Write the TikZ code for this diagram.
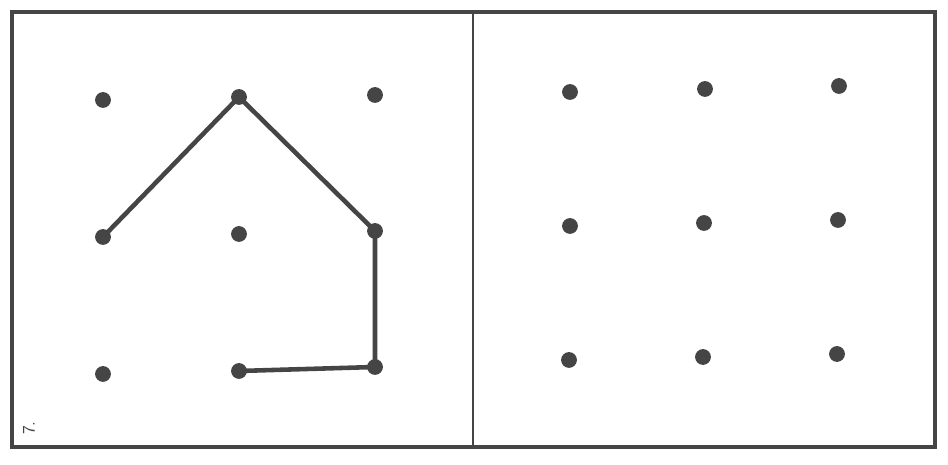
\documentclass[tikz,border=0pt]{standalone}
\usepackage{xcolor}
\definecolor{ink}{HTML}{454545}
\tikzset{
    dot/.style={circle,fill=ink,inner sep=0pt,minimum size=9pt},
    frame/.style={draw=ink,line width=2.2pt},
    stroke/.style={draw=ink,line width=2.6pt,line cap=round,line join=round}
}
\begin{document}
\begin{tikzpicture}[x=0.02cm,y=-0.02cm]
                    \useasboundingbox (0,0) rectangle (948,465);
                    \draw[frame] (12,12) rectangle (935,447);
                    \draw[frame,line width=1.5pt] (473,12) -- (473,447);
                    % left grid
                    \node[dot] (a1) at (103,100) {};
                    \node[dot] (a2) at (239,97) {};
                    \node[dot] (a3) at (375,95) {};
                    \node[dot] (b1) at (103,237) {};
                    \node[dot] (b2) at (239,234) {};
                    \node[dot] (b3) at (375,231) {};
                    \node[dot] (c1) at (103,374) {};
                    \node[dot] (c2) at (239,371) {};
                    \node[dot] (c3) at (375,367) {};
                    % right grid
                    \node[dot] (d1) at (570,92) {};
                    \node[dot] (d2) at (705,89) {};
                    \node[dot] (d3) at (839,86) {};
                    \node[dot] (e1) at (570,226) {};
                    \node[dot] (e2) at (704,223) {};
                    \node[dot] (e3) at (838,220) {};
                    \node[dot] (f1) at (569,360) {};
                    \node[dot] (f2) at (703,357) {};
                    \node[dot] (f3) at (837,354) {};
                    \draw[stroke] (b1.center) -- (a2.center) -- (b3.center) -- (c3.center) -- (c2.center);
                    \node[rotate=90,text=ink,font=\sffamily] (num) at (29,428) {7.};
                \end{tikzpicture}
\end{document}
